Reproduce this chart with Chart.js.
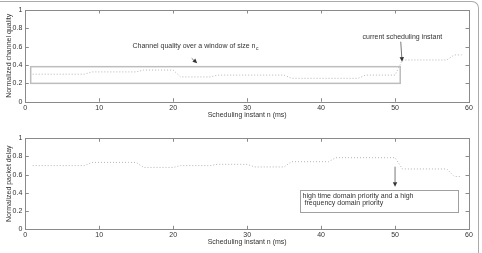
<!DOCTYPE html>
<html><head><meta charset="utf-8">
<script src="https://cdn.jsdelivr.net/npm/chart.js@4"></script>
<style>
html,body{margin:0;padding:0;background:#fff;width:482px;height:253px;overflow:hidden;position:relative}
#frame{position:absolute;left:-20px;top:1px;width:499px;height:300px;border-top:1px solid #aaa;border-right:1px solid #aaa;border-top-right-radius:7px;box-sizing:border-box}
canvas{position:absolute;left:0}
</style></head>
<body>
<div id="frame"></div>
<canvas id="c1" width="482" height="126" style="top:0"></canvas>
<canvas id="c2" width="482" height="127" style="top:126px"></canvas>
<script>
const xValues = [];
for (let i = 1; i <= 59; i++) xValues.push(i);
const channelQuality = [
 0.30,0.30,0.30,0.30,0.30,0.30,0.30,0.30,
 0.325,0.325,0.325,0.325,0.325,0.325,0.325,
 0.345,0.345,0.345,0.345,0.345,
 0.27,0.27,0.27,0.27,0.27,
 0.29,0.29,0.29,0.29,0.29,0.29,0.29,0.29,0.29,0.29,
 0.255,0.255,0.255,0.255,0.255,0.255,0.255,0.255,0.255,0.255,
 0.29,0.29,0.29,0.29,0.29,
 0.455,0.455,0.455,0.455,0.455,0.455,0.455,
 0.51,0.51
];
const packetDelay = [
 0.70,0.70,0.70,0.70,0.70,0.70,0.70,0.70,
 0.735,0.735,0.735,0.735,0.735,0.735,0.735,
 0.68,0.68,0.68,0.68,0.68,
 0.70,0.70,0.70,0.70,0.70,
 0.714,0.714,0.714,0.714,0.714,
 0.685,0.685,0.685,0.685,0.685,
 0.743,0.743,0.743,0.743,0.743,0.743,
 0.787,0.787,0.787,0.787,0.787,0.787,0.787,0.787,0.787,
 0.663,0.663,0.663,0.663,0.663,0.663,0.663,
 0.58,0.58
];
const xTicks = [0,10,20,30,40,50,60];
const yTicks = [0,0.2,0.4,0.6,0.8,1];
const xTitle = 'Scheduling instant n (ms)';
const yTitle1 = 'Normalized channel quality';
const yTitle2 = 'Normalized packet delay';

const FONT = 'Liberation Sans, Arial, Helvetica, sans-serif';
const TXT = '#333';
const annotations = {};

function arrow(ctx, x1, y1, x2, y2) {
  ctx.save();
  ctx.strokeStyle = '#555'; ctx.fillStyle = '#333'; ctx.lineWidth = 0.8;
  const a = Math.atan2(y2 - y1, x2 - x1);
  const L = 4.5, W = 2.2;
  const bx = x2 - L * Math.cos(a), by = y2 - L * Math.sin(a);
  ctx.beginPath(); ctx.moveTo(x1, y1); ctx.lineTo(bx, by); ctx.stroke();
  ctx.beginPath(); ctx.moveTo(x2, y2);
  ctx.lineTo(bx + W * Math.sin(a), by - W * Math.cos(a));
  ctx.lineTo(bx - W * Math.sin(a), by + W * Math.cos(a));
  ctx.closePath(); ctx.fill();
  ctx.restore();
}

const boxPlugin = {
  id: 'boxTicks',
  afterDraw(chart) {
    const {ctx, chartArea: a} = chart;
    const x = chart.scales.x, y = chart.scales.y;
    ctx.save();
    ctx.strokeStyle = '#8a8a8a'; ctx.lineWidth = 1;
    ctx.strokeRect(Math.round(a.left) + 0.5, Math.round(a.top) + 0.5, Math.round(a.right - a.left), Math.round(a.bottom - a.top));
    ctx.beginPath();
    const tl = 3.5;
    xTicks.forEach(v => {
      const px = Math.round(x.getPixelForValue(v)) + 0.5;
      ctx.moveTo(px, a.bottom); ctx.lineTo(px, a.bottom - tl);
      ctx.moveTo(px, a.top); ctx.lineTo(px, a.top + tl);
    });
    yTicks.forEach(v => {
      const py = Math.round(y.getPixelForValue(v)) + 0.5;
      ctx.moveTo(a.left, py); ctx.lineTo(a.left + tl, py);
      ctx.moveTo(a.right, py); ctx.lineTo(a.right - tl, py);
    });
    ctx.stroke();
    ctx.restore();
    const ann = annotations[chart.canvas.id];
    if (ann) ann(chart);
  }
};

function makeConfig(values, yTitle, dims) {
  return {
    type: 'line',
    data: {
      datasets: [{
        data: values.map((v, i) => ({x: xValues[i], y: v})),
        borderColor: '#b4b4b4', borderWidth: 1, borderDash: [1, 2],
        pointRadius: 0, fill: false, tension: 0
      }]
    },
    options: {
      animation: false, responsive: false,
      layout: {padding: {left: 0, right: dims.right, top: dims.top, bottom: 0}},
      plugins: {legend: {display: false}, tooltip: {enabled: false}},
      scales: {
        x: {
          type: 'linear', min: 0, max: 60,
          afterFit: s => { s.height = dims.xh; },
          afterBuildTicks: s => { s.ticks = xTicks.map(v => ({value: v})); },
          grid: {display: false, drawTicks: false}, border: {display: false},
          ticks: {color: TXT, font: {family: FONT, size: 7}, padding: 2, maxRotation: 0, callback: v => String(v)},
          title: {display: true, text: xTitle, color: TXT, font: {family: FONT, size: 7}, padding: {top: 0, bottom: dims.xtp}}
        },
        y: {
          min: 0, max: 1,
          afterFit: s => { s.width = 25.3; },
          afterBuildTicks: s => { s.ticks = yTicks.map(v => ({value: v})); },
          grid: {display: false, drawTicks: false}, border: {display: false},
          ticks: {color: TXT, font: {family: FONT, size: 7}, padding: 3, callback: v => String(Math.round(v * 10) / 10)},
          title: {display: true, text: yTitle, color: TXT, font: {family: FONT, size: 7}, padding: {top: 5, bottom: 0}}
        }
      }
    },
    plugins: [boxPlugin]
  };
}

annotations.c1 = function (chart) {
  const ctx = chart.ctx, x = chart.scales.x, y = chart.scales.y;
  ctx.save();
  ctx.strokeStyle = '#bdbdbd'; ctx.lineWidth = 1.5;
  const x1 = x.getPixelForValue(0.73), x2 = x.getPixelForValue(50.7);
  const y1 = y.getPixelForValue(0.382), y2 = y.getPixelForValue(0.2);
  ctx.strokeRect(x1, y1, x2 - x1, y2 - y1);
  ctx.fillStyle = TXT; ctx.font = '7px ' + FONT; ctx.textBaseline = 'middle'; ctx.textAlign = 'left';
  const t = 'Channel quality over a window of size n';
  const tx = x.getPixelForValue(14.5), ty = y.getPixelForValue(0.61);
  ctx.fillText(t, tx, ty);
  const w = ctx.measureText(t).width;
  ctx.font = '5px ' + FONT;
  ctx.fillText('c', tx + w + 0.5, ty + 3);
  ctx.font = '7px ' + FONT;
  ctx.fillText('current scheduling instant', x.getPixelForValue(45.6), y.getPixelForValue(0.709));
  ctx.restore();
  arrow(ctx, x.getPixelForValue(22.5), y.getPixelForValue(0.473), x.getPixelForValue(23.25), y.getPixelForValue(0.42));
  arrow(ctx, x.getPixelForValue(50.77), y.getPixelForValue(0.654), x.getPixelForValue(50.95), y.getPixelForValue(0.436));
};

annotations.c2 = function (chart) {
  const ctx = chart.ctx, x = chart.scales.x, y = chart.scales.y;
  ctx.save();
  ctx.strokeStyle = '#a0a0a0'; ctx.lineWidth = 1;
  const x1 = Math.round(x.getPixelForValue(37.2)) + 0.5, x2 = Math.round(x.getPixelForValue(58.5)) + 0.5;
  const y1 = Math.round(y.getPixelForValue(0.43)) + 0.5, y2 = Math.round(y.getPixelForValue(0.19)) + 0.5;
  ctx.fillStyle = '#fff';
  ctx.fillRect(x1, y1, x2 - x1, y2 - y1);
  ctx.strokeRect(x1, y1, x2 - x1, y2 - y1);
  ctx.fillStyle = TXT; ctx.font = '7px ' + FONT; ctx.textBaseline = 'middle'; ctx.textAlign = 'left';
  ctx.fillText('high time domain priority and a high', x.getPixelForValue(37.5), y.getPixelForValue(0.369));
  ctx.fillText(' frequency domain priority', x.getPixelForValue(37.5), y.getPixelForValue(0.286));
  ctx.restore();
  arrow(ctx, x.getPixelForValue(50), y.getPixelForValue(0.688), x.getPixelForValue(50), y.getPixelForValue(0.468));
};

new Chart(document.getElementById('c1'), makeConfig(channelQuality, yTitle1, {right: 13, top: 10, xh: 126 - 101.7, xtp: 6.8}));
new Chart(document.getElementById('c2'), makeConfig(packetDelay, yTitle2, {right: 13, top: 12.3, xh: 127 - 103.3, xtp: 6.8}));
</script>
</body></html>
